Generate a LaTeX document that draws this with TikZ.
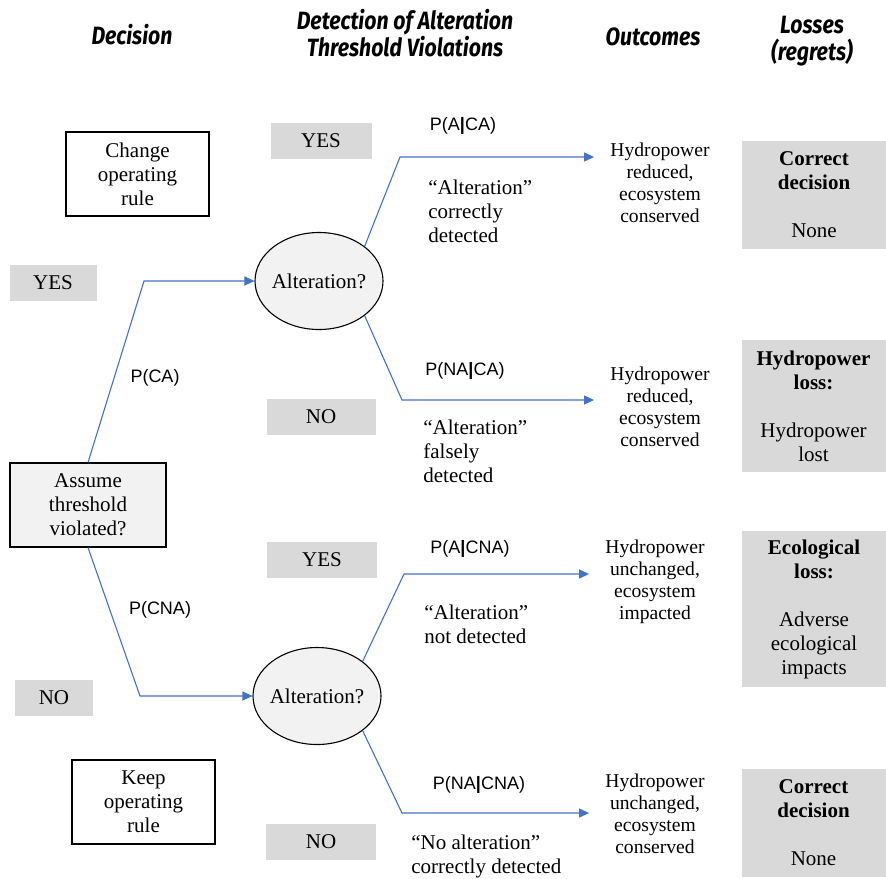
\documentclass[tikz,border=0pt]{standalone}
\usepackage{fontspec}
\setmainfont{Liberation Serif}
\setsansfont{Liberation Sans}
\newfontfamily\headfont{Fira Sans}[FakeStretch=0.85]
\usepackage{tikz}
\usetikzlibrary{positioning, arrows.meta, shapes.geometric, calc}

\definecolor{edgeblue}{HTML}{4472C4}
\definecolor{tagGray}{HTML}{D9D9D9}
\definecolor{paleGray}{HTML}{F2F2F2}

\begin{document}
\begin{tikzpicture}[
            x=0.5pt, y=-0.5pt,
            head/.style={align=center, inner sep=0pt, font=\headfont\bfseries\itshape\fontsize{12.5}{13.5}\selectfont},
            choice/.style={rectangle, draw=black, fill=white, line width=0.55pt, minimum width=71.5pt, minimum height=42pt, inner sep=1pt, align=center, font=\fontsize{10.5}{12}\selectfont},
            query/.style={choice, fill=paleGray, minimum width=78pt},
            tag/.style={rectangle, fill=tagGray, minimum height=18pt, inner sep=0pt, font=\fontsize{10.5}{12}\selectfont},
            alt/.style={ellipse, draw=black, fill=paleGray, line width=0.55pt, minimum width=64pt, minimum height=48.5pt, inner xsep=-6pt, inner ysep=0pt, font=\fontsize{10.5}{12}\selectfont},
            prob/.style={inner sep=0pt, font=\sffamily\fontsize{9}{11}\selectfont},
            note/.style={align=left, inner sep=0pt, anchor=west, font=\fontsize{10.5}{12}\selectfont},
            outcome/.style={align=center, inner ysep=0pt, inner xsep=8pt, font=\fontsize{9.8}{11}\selectfont},
            loss/.style={rectangle, fill=tagGray, minimum width=72pt, inner sep=0pt, align=center, font=\fontsize{10.5}{12}\selectfont},
            branch/.style={-{Triangle[length=5pt, width=4.5pt]}, line width=0.55pt, draw=edgeblue}
            ]

            \useasboundingbox (0,0) rectangle (886,878);

            % Column headings
            \node[head] (h1) at (132,35) {Decision};
            \node[head] (h2) at (405,33) {Detection of Alteration\\Threshold Violations};
            \node[head] (h3) at (653,37) {Outcomes};
            \node[head] (h4) at (812,41) {Losses\\(regrets)};

            % Decision
            \node[choice] (change) at (137.5,174) {Change\\operating\\rule};
            \node[query] (assume) at (88,505) {Assume\\threshold\\violated?};
            \node[choice] (keep) at (143.5,802) {Keep\\operating\\rule};
            \node[tag, minimum width=43.5pt] (yes1) at (53,283) {YES};
            \node[tag, minimum width=39pt] (no1) at (54,698) {NO};

            % Detection
            \node[alt] (alt1) at (319,281) {Alteration?};
            \node[alt] (alt2) at (317,696) {Alteration?};
            \node[tag, minimum width=50.5pt] (yes2) at (321,141) {YES};
            \node[tag, minimum width=54.5pt] (no2) at (321,417) {NO};
            \node[tag, minimum width=55pt] (yes3) at (322,560) {YES};
            \node[tag, minimum width=55pt] (no3) at (321,842) {NO};

            % Outcomes
            \node[outcome] (out1) at (660,183) {Hydropower\\reduced,\\ecosystem\\conserved};
            \node[outcome] (out2) at (660,407) {Hydropower\\reduced,\\ecosystem\\conserved};
            \node[outcome] (out3) at (655,582) {Hydropower\\unchanged,\\ecosystem\\impacted};
            \node[outcome] (out4) at (655,814) {Hydropower\\unchanged,\\ecosystem\\conserved};

            % Losses
            \node[loss, minimum height=54pt] (loss1) at (814,195) {\textbf{Correct}\\\textbf{decision}\\[12pt]None};
            \node[loss, minimum height=66pt] (loss2) at (813.5,406) {\textbf{Hydropower}\\\textbf{loss:}\\[12pt]Hydropower\\lost};
            \node[loss, minimum height=78pt] (loss3) at (814,609) {\textbf{Ecological}\\\textbf{loss:}\\[12pt]Adverse\\ecological\\impacts};
            \node[loss, minimum height=54pt] (loss4) at (813.5,823) {\textbf{Correct}\\\textbf{decision}\\[12pt]None};

            % Bends
            \coordinate (c1) at (144,281);
            \coordinate (c2) at (140,696);
            \coordinate (k1) at (400,157);
            \coordinate (k2) at (402,400);
            \coordinate (k3) at (404,574);
            \coordinate (k4) at (402,813);

            % Branches
            \draw[branch] (assume.north) -- (c1) -- (alt1.west);
            \draw[branch] (assume.south) -- (c2) -- (alt2.west);
            \draw[branch] (alt1.north east) -- (k1) -- (k1 -| out1.west);
            \draw[branch] (alt1.south east) -- (k2) -- (k2 -| out2.west);
            \draw[branch] (alt2.north east) -- (k3) -- (k3 -| out3.west);
            \draw[branch] (alt2.south east) -- (k4) -- (k4 -| out4.west);

            % Probabilities
            \node[prob] (pca) at (155,378) {P(CA)};
            \node[prob] (pcna) at (160,610) {P(CNA)};
            \node[prob] (paca) at (463,126) {P(A\textbf{|}CA)};
            \node[prob] (pnaca) at (465,371) {P(NA\textbf{|}CA)};
            \node[prob] (pacna) at (470,549) {P(A\textbf{|}CNA)};
            \node[prob] (pnacna) at (479,785) {P(NA\textbf{|}CNA)};

            % Detection notes
            \node[note] (note1) at (428,211) {``Alteration''\\correctly\\detected};
            \node[note] (note2) at (423,451) {``Alteration''\\falsely\\detected};
            \node[note] (note3) at (424,624) {``Alteration''\\not detected};
            \node[note] (note4) at (411,856) {``No alteration''\\correctly detected};

        \end{tikzpicture}
\end{document}
